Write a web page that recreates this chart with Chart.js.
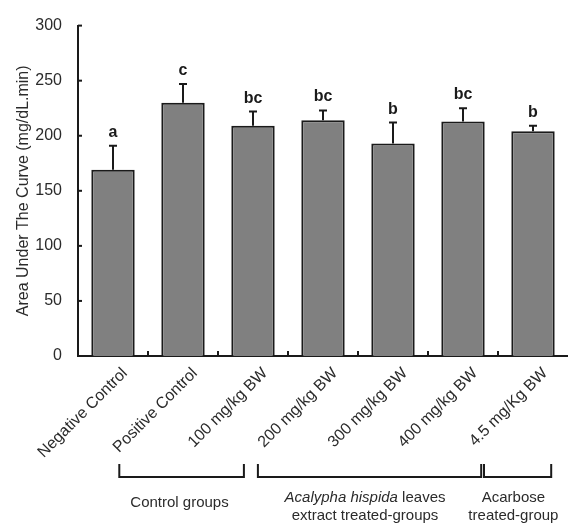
<!DOCTYPE html>
<html>
<head>
<meta charset="utf-8">
<script src="https://cdn.jsdelivr.net/npm/chart.js@4.4.1/dist/chart.umd.min.js"></script>
<style>
  html, body { margin: 0; padding: 0; background: #fff; }
  #wrap { width: 568px; height: 523px; }
</style>
</head>
<body>
<div id="wrap"><canvas id="c" width="568" height="523"></canvas></div>
<script>
// Treatment groups on the x axis
const categories = ['Negative Control', 'Positive Control', '100 mg/kg BW', '200 mg/kg BW',
                    '300 mg/kg BW', '400 mg/kg BW', '4.5 mg/Kg BW'];
// Mean area under the glucose curve (mg/dL.min) and its error (upper whisker only)
const aucMean  = [169, 230, 209, 214, 193, 213, 204];
const aucError = [22, 17, 13, 9, 19, 12, 5];
// Significance letters shown above each bar
const sigLetters = ['a', 'c', 'bc', 'bc', 'b', 'bc', 'b'];
// Y axis tick values
const yTicks = [0, 50, 100, 150, 200, 250, 300];
// Group brackets under the axis: first and last category index of each group
const groupNames = [['Control groups'], ['Acalypha hispida leaves', 'extract treated-groups'], ['Acarbose', 'treated-group']];
const groupFrom = [0, 3, 6];
const groupTo   = [2, 5, 6];

const INK = '#1a1a1a';
const TEXT = '#2b2b2b';
const FONT = '"Liberation Sans", Arial, sans-serif';

// Error whiskers, letters, inward ticks and group brackets
const decorations = {
  id: 'decorations',
  afterDatasetsDraw(chart) {
    const ctx = chart.ctx;
    const x = chart.scales.x, y = chart.scales.y;
    const area = chart.chartArea;
    const meta = chart.getDatasetMeta(0);
    ctx.save();
    ctx.strokeStyle = INK;
    ctx.lineWidth = 2;

    // whiskers and caps
    meta.data.forEach((bar, i) => {
      const top = y.getPixelForValue(aucMean[i] + aucError[i]);
      const base = y.getPixelForValue(aucMean[i]);
      ctx.beginPath();
      ctx.moveTo(bar.x, base);
      ctx.lineTo(bar.x, top);
      ctx.moveTo(bar.x - 4, top);
      ctx.lineTo(bar.x + 4, top);
      ctx.stroke();

      ctx.fillStyle = INK;
      ctx.font = 'bold 16px ' + FONT;
      ctx.textAlign = 'center';
      ctx.textBaseline = 'alphabetic';
      ctx.fillText(sigLetters[i], bar.x, top - 9);
    });

    // inward ticks on the y axis
    yTicks.forEach(v => {
      const py = y.getPixelForValue(v);
      ctx.beginPath();
      ctx.moveTo(area.left, py);
      ctx.lineTo(area.left + 4, py);
      ctx.stroke();
    });
    // inward ticks between categories
    for (let i = 0; i < categories.length - 1; i++) {
      const px = (x.getPixelForValue(i) + x.getPixelForValue(i + 1)) / 2;
      ctx.beginPath();
      ctx.moveTo(px, area.bottom);
      ctx.lineTo(px, area.bottom - 5);
      ctx.stroke();
    }

    // group brackets
    const step = x.getPixelForValue(1) - x.getPixelForValue(0);
    const bracketEnds = [[0.09, -0.13], [-0.93, 0.26], [-0.70, 0.26]];
    const topY = area.bottom + 108, botY = area.bottom + 121;
    groupFrom.forEach((f, g) => {
      const l = x.getPixelForValue(f) + bracketEnds[g][0] * step;
      const r = x.getPixelForValue(groupTo[g]) + bracketEnds[g][1] * step;
      ctx.beginPath();
      ctx.moveTo(l, topY);
      ctx.lineTo(l, botY);
      ctx.lineTo(r, botY);
      ctx.lineTo(r, topY);
      ctx.stroke();
    });
    ctx.restore();
  },
  afterDraw(chart) {
    const ctx = chart.ctx;
    const x = chart.scales.x;
    const area = chart.chartArea;
    const step = x.getPixelForValue(1) - x.getPixelForValue(0);
    ctx.save();
    ctx.fillStyle = TEXT;
    ctx.textBaseline = 'alphabetic';
    ctx.font = '15px ' + FONT;
    ctx.textAlign = 'center';

    // Control groups
    const c0 = (x.getPixelForValue(0) + x.getPixelForValue(2)) / 2 - 0.05 * step;
    ctx.fillText(groupNames[0][0], c0, area.bottom + 151);

    // Acalypha hispida group: italic genus/species, upright rest
    const c1 = (x.getPixelForValue(3) + x.getPixelForValue(5)) / 2 - 0.40 * step;
    const italicPart = 'Acalypha hispida';
    const rest = groupNames[1][0].slice(italicPart.length);
    ctx.font = 'italic 15px ' + FONT;
    const wI = ctx.measureText(italicPart).width;
    ctx.font = '15px ' + FONT;
    const wR = ctx.measureText(rest).width;
    const startX = c1 - (wI + wR) / 2;
    ctx.textAlign = 'left';
    ctx.font = 'italic 15px ' + FONT;
    ctx.fillText(italicPart, startX, area.bottom + 146);
    ctx.font = '15px ' + FONT;
    ctx.fillText(rest, startX + wI, area.bottom + 146);
    ctx.textAlign = 'center';
    ctx.fillText(groupNames[1][1], c1, area.bottom + 164);

    // Acarbose group
    const c2 = x.getPixelForValue(6) - 0.28 * step;
    ctx.fillText(groupNames[2][0], c2, area.bottom + 146);
    ctx.fillText(groupNames[2][1], c2, area.bottom + 164);
    ctx.restore();
  }
};

new Chart(document.getElementById('c'), {
  type: 'bar',
  data: {
    labels: categories,
    datasets: [{
      data: aucMean,
      backgroundColor: '#808080',
      borderColor: INK,
      borderWidth: 2,
      borderSkipped: 'start',
      barPercentage: 0.62,
      categoryPercentage: 1.0
    }]
  },
  options: {
    responsive: false,
    animation: false,
    devicePixelRatio: 1,
    layout: { padding: { top: 20, right: 0, left: 0, bottom: 0 } },
    plugins: { legend: { display: false }, tooltip: { enabled: false } },
    scales: {
      x: {
        afterFit(s) { s.height = 167; },
        grid: { display: false, drawTicks: false },
        border: { display: true, color: INK, width: 2 },
        ticks: {
          color: TEXT,
          font: { family: FONT, size: 16 },
          maxRotation: 45, minRotation: 45,
          autoSkip: false,
          padding: 8,
          labelOffset: 12
        }
      },
      y: {
        min: 0, max: 300,
        afterFit(s) { s.width = 78; },
        afterBuildTicks(s) { s.ticks = yTicks.map(v => ({ value: v })); },
        grid: { display: false, drawTicks: false },
        border: { display: true, color: INK, width: 2 },
        ticks: {
          color: TEXT,
          font: { family: FONT, size: 16 },
          padding: 16
        },
        title: {
          display: true,
          text: 'Area Under The Curve (mg/dL.min)',
          color: TEXT,
          font: { family: FONT, size: 16 },
          padding: { top: 14, bottom: 0 }
        }
      }
    }
  },
  plugins: [decorations]
});
</script>
</body>
</html>
